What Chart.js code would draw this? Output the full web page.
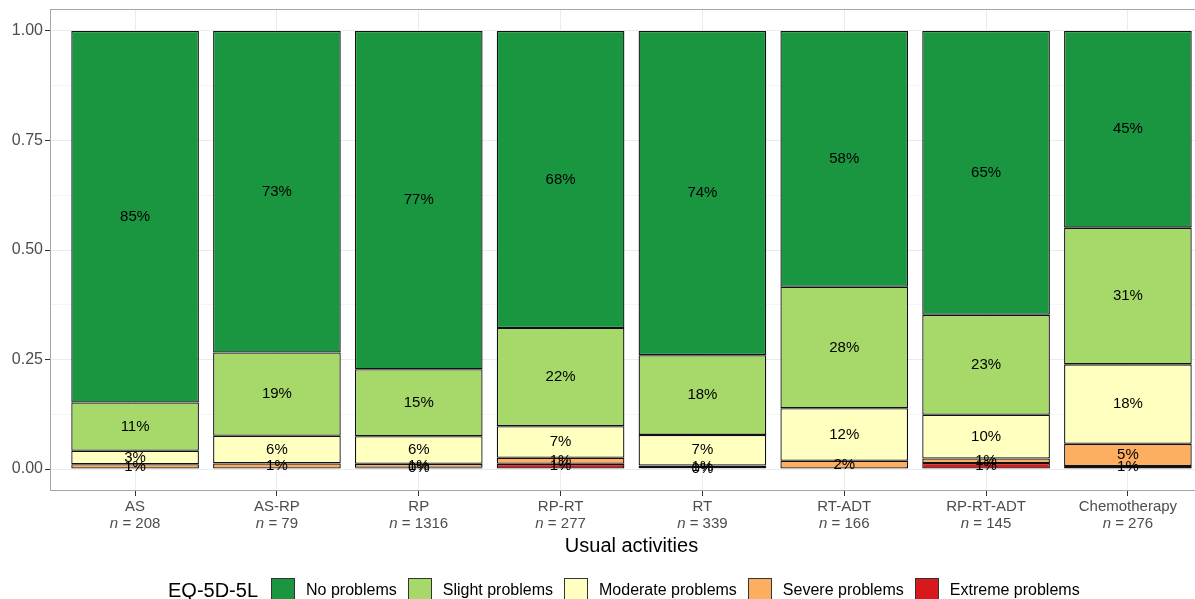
<!DOCTYPE html>
<html>
<head>
<meta charset="utf-8">
<script src="https://cdn.jsdelivr.net/npm/chart.js@4.4.1/dist/chart.umd.min.js"></script>
<style>
  html, body { margin: 0; padding: 0; background: #fff; overflow: hidden; }
  body { width: 1195px; height: 599px; position: relative; font-family: "Liberation Sans", Arial, sans-serif; }
  #wrap { position: absolute; left: 0; top: 0; width: 1216px; height: 599px; }
  #legenda { position: absolute; left: 168px; top: 578px; display: flex; align-items: center; white-space: nowrap; }
  #legenda .titulo { font-size: 20px; color: #000; margin-right: 13px; }
  #legenda .caixa { width: 22px; height: 22px; border: 1px solid #333; margin-right: 11px; }
  #legenda .rotulo { font-size: 16px; color: #000; margin-right: 11px; }
</style>
</head>
<body>
<div id="wrap"><canvas id="grafico-barras"></canvas></div>
<div id="legenda"></div>
<script>
// DADOS DO GRÁFICO
const categories = ['AS', 'AS-RP', 'RP', 'RP-RT', 'RT', 'RT-ADT', 'RP-RT-ADT', 'Chemotherapy'];
const sampleSizes = [208, 79, 1316, 277, 339, 166, 145, 276];
const noProblems = [0.848, 0.734, 0.772, 0.678, 0.740, 0.584, 0.648, 0.449];
const slightProblems = [0.110, 0.190, 0.153, 0.224, 0.182, 0.277, 0.228, 0.312];
const moderateProblems = [0.031, 0.063, 0.063, 0.072, 0.070, 0.120, 0.100, 0.181];
const severeProblems = [0.011, 0.013, 0.009, 0.014, 0.006, 0.019, 0.010, 0.051];
const extremeProblems = [null, null, 0.003, 0.012, 0.002, null, 0.014, 0.007];
const yTicks = [0, 0.25, 0.5, 0.75, 1];
const yMinorTicks = [0.125, 0.375, 0.625, 0.875];

const fonte = '"Liberation Sans", Arial, sans-serif';

// séries de baixo para cima
const series = [
    { label: 'Extreme problems', data: extremeProblems, color: '#d7191c' },
    { label: 'Severe problems', data: severeProblems, color: '#fdae61' },
    { label: 'Moderate problems', data: moderateProblems, color: '#ffffbf' },
    { label: 'Slight problems', data: slightProblems, color: '#a6d96a' },
    { label: 'No problems', data: noProblems, color: '#1a9641' }
];

// LEGENDA (ordem do ggplot)
let legenda = document.getElementById('legenda');
let tit = document.createElement('span');
tit.className = 'titulo';
tit.textContent = 'EQ-5D-5L';
legenda.appendChild(tit);
series.slice().reverse().forEach(s => {
    let caixa = document.createElement('span');
    caixa.className = 'caixa';
    caixa.style.background = s.color;
    let rot = document.createElement('span');
    rot.className = 'rotulo';
    rot.textContent = s.label;
    legenda.appendChild(caixa);
    legenda.appendChild(rot);
});

// rótulos de porcentagem no meio de cada segmento
const rotulosPlugin = {
    id: 'rotulos',
    afterDatasetsDraw(chart) {
        let ctx = chart.ctx;
        ctx.save();
        ctx.font = '15px ' + fonte;
        ctx.fillStyle = '#000';
        ctx.textAlign = 'center';
        ctx.textBaseline = 'middle';
        chart.data.datasets.forEach((ds, i) => {
            let meta = chart.getDatasetMeta(i);
            meta.data.forEach((el, j) => {
                let v = ds.data[j].y;
                if (v === null) return;
                ctx.fillText(Math.round(v * 100) + '%', el.x, (el.y + el.base) / 2);
            });
        });
        ctx.restore();
    },
    afterDraw(chart) {
        let ctx = chart.ctx;
        let a = chart.chartArea;
        ctx.save();
        // borda do painel
        ctx.strokeStyle = '#a6a6a6';
        ctx.lineWidth = 1;
        ctx.strokeRect(a.left + 0.5, a.top + 0.5, a.right - a.left - 1, a.bottom - a.top - 1);
        // rótulos do eixo x em duas linhas
        let xs = chart.scales.x;
        ctx.fillStyle = '#4d4d4d';
        ctx.textBaseline = 'middle';
        categories.forEach((c, i) => {
            let x = xs.getPixelForValue(i);
            ctx.font = '15px ' + fonte;
            ctx.textAlign = 'center';
            ctx.fillText(c, x, a.bottom + 16);
            let resto = ' = ' + sampleSizes[i];
            ctx.font = 'italic 15px ' + fonte;
            let wn = ctx.measureText('n').width;
            ctx.font = '15px ' + fonte;
            let wr = ctx.measureText(resto).width;
            let x0 = x - (wn + wr) / 2;
            ctx.textAlign = 'left';
            ctx.font = 'italic 15px ' + fonte;
            ctx.fillText('n', x0, a.bottom + 33);
            ctx.font = '15px ' + fonte;
            ctx.fillText(resto, x0 + wn, a.bottom + 33);
        });
        ctx.restore();
    }
};

let canvas = document.getElementById('grafico-barras');
let ctx = canvas.getContext('2d');

let data = {
    datasets: series.map(s => ({
        label: s.label,
        data: s.data.map((v, i) => ({ x: i, y: v })),
        backgroundColor: s.color,
        borderColor: '#111',
        borderWidth: 1.3,
        borderSkipped: false,
        categoryPercentage: 1,
        barPercentage: 0.9
    }))
};

let options = {
    responsive: true,
    maintainAspectRatio: false,
    animation: false,
    layout: { padding: { top: 9, right: 3, bottom: 38, left: 0 } },
    plugins: {
        legend: { display: false },
        tooltip: { enabled: false }
    },
    scales: {
        x: {
            type: 'linear',
            stacked: true,
            offset: false,
            min: -0.6,
            max: 7.6,
            afterBuildTicks: scale => { scale.ticks = categories.map((c, i) => ({ value: i })); },
            afterFit: scale => { scale.height = 70; scale.paddingLeft = 0; scale.paddingRight = 0; },
            ticks: { display: false },
            grid: { offset: false, color: '#ebebeb', tickColor: '#333', tickLength: 5, lineWidth: 1 },
            border: { display: false },
            title: {
                display: true,
                text: 'Usual activities',
                color: '#000',
                font: { family: fonte, size: 20 },
                padding: { top: 0, bottom: 3 }
            }
        },
        y: {
            stacked: true,
            min: -0.05,
            max: 1.05,
            afterBuildTicks: scale => {
                scale.ticks = yTicks.concat(yMinorTicks).sort((p, q) => p - q).map(v => ({ value: v }));
            },
            afterFit: scale => { scale.width = 50; scale.paddingTop = 0; scale.paddingBottom = 0; },
            ticks: {
                color: '#4d4d4d',
                padding: 2,
                font: { family: fonte, size: 16 },
                callback: v => yTicks.includes(v) ? v.toFixed(2) : ''
            },
            grid: {
                color: c => yTicks.includes(c.tick.value) ? '#ebebeb' : '#f5f5f5',
                tickColor: c => yTicks.includes(c.tick.value) ? '#333' : 'rgba(0,0,0,0)',
                tickLength: 5
            },
            border: { display: false }
        }
    }
};

// RENDERIZAR GRÁFICO
let grafico_barras = new Chart(ctx, {
    type: 'bar',
    data: data,
    options: options,
    plugins: [rotulosPlugin]
});
</script>
</body>
</html>
